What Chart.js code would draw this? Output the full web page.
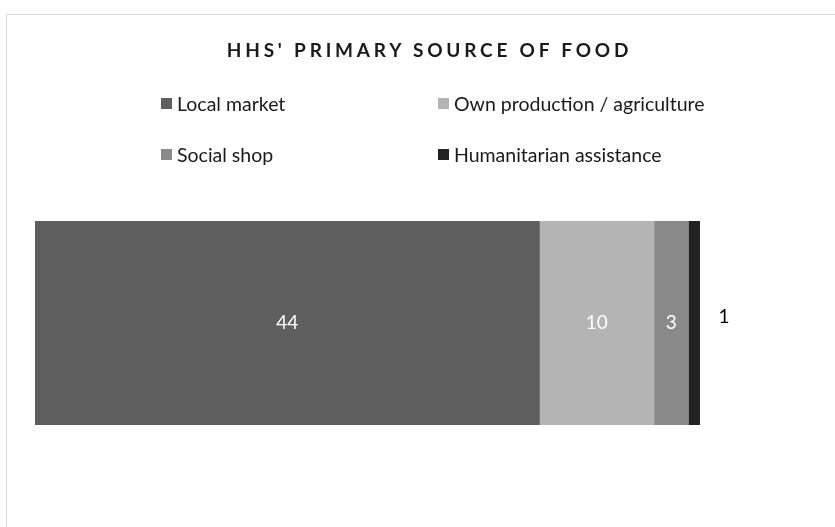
<!DOCTYPE html>
<html>
<head>
    <title>HHS' primary source of food</title>
    <style>
        body { margin: 0; width: 835px; height: 527px; overflow: hidden; background: #fff; font-family: Lato, "Open Sans", sans-serif; }
        #frame { position: absolute; left: 6px; top: 14px; width: 900px; height: 600px; border: 1px solid #d9d9d9; }
        #chart-box { position: absolute; left: 0; top: 0; width: 835px; height: 527px; }
        #title { position: absolute; left: 12px; width: 835px; top: 38px; text-align: center; font-size: 19px; font-weight: bold; letter-spacing: 3.8px; color: #1a1a1a; }
        #legend { position: absolute; left: 161px; top: 98px; }
        .item { position: absolute; white-space: nowrap; font-size: 19.5px; color: #1a1a1a; line-height: 11px; }
        .swatch { display: inline-block; width: 11px; height: 11px; margin-right: 5px; vertical-align: top; }
        .item span.txt { display: inline-block; vertical-align: top; line-height: 11px; }
    </style>
</head>
<body>
    <div id="frame"></div>
    <div id="chart-box">
        <canvas id="food-chart" width="835" height="527"></canvas>
    </div>
    <div id="title">HHS' PRIMARY SOURCE OF FOOD</div>
    <div id="legend"></div>

    <script src="https://cdn.jsdelivr.net/npm/chart.js"></script>
    <script>
        // Data
        const categories = ['Households'];
        const sourceLabels = ['Local market', 'Own production / agriculture', 'Social shop', 'Humanitarian assistance'];
        const sourceValues = [44, 10, 3, 1];
        const sourceColors = ['#5f5f5f', '#b4b4b4', '#8a8a8a', '#222222'];
        const axisMax = 58;

        // Legend in two columns, filled row by row
        const legendSlots = [[0, 0], [277, 0], [0, 51], [277, 51]];
        const legendEl = document.getElementById('legend');
        sourceLabels.forEach((label, i) => {
            const item = document.createElement('div');
            item.className = 'item';
            item.style.left = legendSlots[i][0] + 'px';
            item.style.top = legendSlots[i][1] + 'px';
            item.innerHTML = '<span class="swatch" style="background:' + sourceColors[i] + '"></span><span class="txt">' + label + '</span>';
            legendEl.appendChild(item);
        });

        // Value labels: inside the segment, or just right of it when too narrow
        const valueLabels = {
            id: 'valueLabels',
            afterDatasetsDraw(chart) {
                const ctx = chart.ctx;
                ctx.save();
                ctx.font = '19px Lato, "Open Sans", sans-serif';
                ctx.textAlign = 'center';
                ctx.textBaseline = 'middle';
                chart.data.datasets.forEach((ds, i) => {
                    const meta = chart.getDatasetMeta(i);
                    meta.data.forEach((bar, j) => {
                        const w = Math.abs(bar.x - bar.base);
                        const v = ds.data[j];
                        if (w < 20) {
                            ctx.fillStyle = '#000000';
                            ctx.fillText(v, bar.x + 24, bar.y - 6);
                        } else {
                            ctx.fillStyle = '#ffffff';
                            ctx.fillText(v, (bar.x + bar.base) / 2, bar.y);
                        }
                    });
                });
                ctx.restore();
            }
        };

        const ctx = document.getElementById('food-chart').getContext('2d');
        const chart = new Chart(ctx, {
            type: 'bar',
            data: {
                labels: categories,
                datasets: sourceLabels.map((label, i) => ({
                    label: label,
                    data: [sourceValues[i]],
                    backgroundColor: sourceColors[i],
                    borderWidth: 0,
                    barPercentage: 1,
                    categoryPercentage: 1
                }))
            },
            options: {
                indexAxis: 'y',
                responsive: false,
                animation: false,
                layout: { padding: { left: 35, right: 135, top: 221, bottom: 102 } },
                scales: {
                    x: { stacked: true, min: 0, max: axisMax, display: false },
                    y: { stacked: true, display: false }
                },
                plugins: {
                    legend: { display: false },
                    tooltip: { enabled: false }
                }
            },
            plugins: [valueLabels]
        });
    </script>
</body>
</html>
